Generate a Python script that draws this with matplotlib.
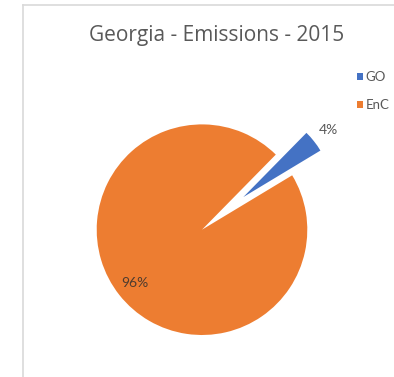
import matplotlib
matplotlib.use("Agg")
import matplotlib.pyplot as plt
from matplotlib.lines import Line2D
import numpy as np

# Emission shares for Georgia, 2015
categories = ["GO", "EnC"]
shares = [4, 96]
colors = ["#4472C4", "#ED7D31"]
title = "Georgia - Emissions - 2015"

W, H = 394, 377
R = 105.3  # pie radius in pixels; data units are multiples of R
fig = plt.figure(figsize=(W / 100, H / 100), dpi=100)
fig.patch.set_facecolor("white")
ax = fig.add_axes([0, 0, 1, 1])

cx, cy = 202 / R, (H - 229.7) / R
wedges, texts, autotexts = ax.pie(
    shares,
    colors=colors,
    explode=[0.5, 0],
    startangle=45.5,
    counterclock=False,
    radius=1,
    center=(cx, cy),
    autopct="%1.0f%%",
    wedgeprops=dict(linewidth=0),
    textprops=dict(family="Lato", fontsize=10),
)
# the pulled-out slice is drawn a little shorter
wedges[0].set_radius(0.855)

# place the percentage labels along each wedge's bisector
label_dist = [1.03, 0.81]
label_colors = ["#595959", "#4d3b2f"]
for w, t, d, c in zip(wedges, autotexts, label_dist, label_colors):
    mid = np.deg2rad((w.theta1 + w.theta2) / 2)
    x0, y0 = w.center
    t.set_position((x0 + d * np.cos(mid), y0 + d * np.sin(mid)))
    t.set_color(c)

ax.set_xlim(0, W / R)
ax.set_ylim(0, H / R)
ax.set_aspect("auto")
ax.axis("off")

fig.text(217 / W, 1 - 36 / H, title, ha="center", va="center",
         family="Open Sans", fontsize=15, color="#595959")

leg = ax.legend(
    wedges, categories,
    loc="upper left", bbox_to_anchor=(357 / W, 1 - 71 / H),
    bbox_transform=fig.transFigure,
    frameon=False,
    handlelength=0.42, handleheight=0.42, handletextpad=0.25,
    labelspacing=1.25, borderpad=0, borderaxespad=0,
    prop=dict(family="Lato", size=9.5),
)
for txt in leg.get_texts():
    txt.set_color("#595959")

# chart area border
fig.add_artist(Line2D([23 / W, 23 / W], [0, 1 - 5 / H], transform=fig.transFigure,
                      color="#d9d9d9", linewidth=1.2))
fig.add_artist(Line2D([23 / W, 1], [1 - 5 / H, 1 - 5 / H], transform=fig.transFigure,
                      color="#d9d9d9", linewidth=1.2))

fig.savefig("out.png", dpi=100, facecolor="white")
